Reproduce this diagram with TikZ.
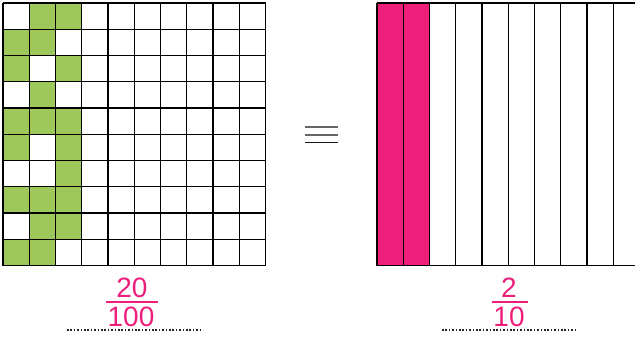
\documentclass[tikz,border=0pt]{standalone}
\usepackage{fontspec}
\setmainfont{Liberation Sans}
\usetikzlibrary{positioning}
\definecolor{fracpink}{RGB}{238, 31, 122}
\definecolor{cellgreen}{RGB}{159, 200, 90}

\begin{document}
\begin{tikzpicture}[x=1pt, y=-1pt,
    gridline/.style={line width=1.1pt, black},
    fracnum/.style={text=fracpink, inner sep=0pt, font=\fontsize{28}{30}\selectfont},
    fracbar/.style={fracpink, line width=2.2pt},
    answerline/.style={line width=1.5pt, dash pattern=on 1.5pt off 1.9pt, black!85}]
    \useasboundingbox (0,0) rectangle (635,338);
    \def\cell{26.25}
    % hundredths grid, shaded cells
    \foreach \c/\r in {2/1,3/1,1/2,2/2,1/3,3/3,2/4,1/5,2/5,3/5,1/6,3/6,3/7,1/8,2/8,3/8,2/9,3/9,1/10,2/10}
      \fill[cellgreen] ({3+(\c-1)*\cell},{3+(\r-1)*\cell}) rectangle ++(\cell,\cell);
    \foreach \i in {0,...,10} {
      \draw[gridline] ({3+\i*\cell},3) -- ({3+\i*\cell},{3+10*\cell});
      \draw[gridline] (3,{3+\i*\cell}) -- ({3+10*\cell},{3+\i*\cell});
    }
    % tenths strip
    \begin{scope}
      \clip (0,0) rectangle (635,338);
      \fill[fracpink] (377,3) rectangle ++({2*\cell},{10*\cell});
      \foreach \i in {0,...,10}
        \draw[gridline] ({377+\i*\cell},3) -- ({377+\i*\cell},{3+10*\cell});
      \draw[gridline] (377,3) -- ({377+10*\cell},3);
      \draw[gridline] (377,{3+10*\cell}) -- ({377+10*\cell},{3+10*\cell});
    \end{scope}
    % equals sign
    \foreach \y/\shade in {127/60,135/60,142.5/90}
      \draw[line width=1.2pt, black!\shade] (305,\y) -- (338,\y);
    % fractions
    \node[fracnum] (numA) at (132,288) {20};
    \node[fracnum] (denA) at (131,317) {100};
    \coordinate (barAl) at (106,302);
    \coordinate (barAr) at (158,302);
    \draw[fracbar] (barAl) -- (barAr);
    \coordinate (dotAl) at (67,330);
    \coordinate (dotAr) at (203,330);
    \draw[answerline] (dotAl) -- (dotAr);
    \node[fracnum] (numB) at (509,288) {2};
    \node[fracnum] (denB) at (509,317) {10};
    \coordinate (barBl) at (492,302);
    \coordinate (barBr) at (528,302);
    \draw[fracbar] (barBl) -- (barBr);
    \coordinate (dotBl) at (442,330);
    \coordinate (dotBr) at (577,330);
    \draw[answerline] (dotBl) -- (dotBr);
\end{tikzpicture}
\end{document}
